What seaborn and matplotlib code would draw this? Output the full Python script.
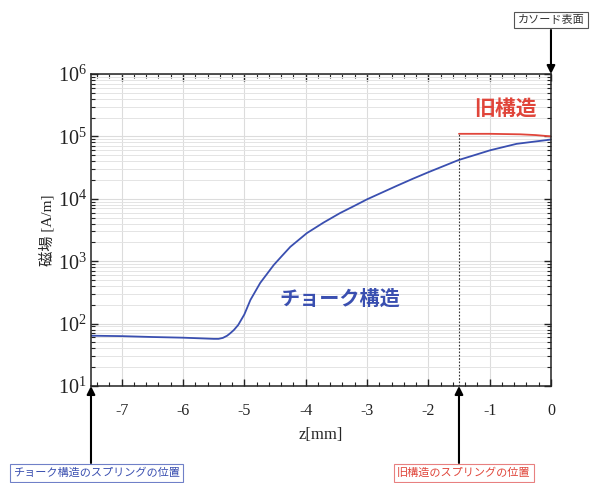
import numpy as np
import pandas as pd
import matplotlib
matplotlib.use("Agg")
import matplotlib.pyplot as plt
import seaborn as sns
from matplotlib.ticker import LogLocator, MultipleLocator, NullFormatter

# blue curve: choke structure
z_choke = [-7.5, -7.0, -6.5, -6.0, -5.7, -5.5, -5.42, -5.35, -5.28, -5.23, -5.17, -5.1,
           -5.0, -4.9, -4.74, -4.52, -4.4, -4.25, -3.98, -3.71, -3.44, -3.2, -3.0,
           -2.51, -2.25, -1.99, -1.51, -1.25, -0.99, -0.56, -0.25, 0.0]
h_choke = [64, 63, 61, 59.5, 58, 57, 57, 59, 64, 70, 79, 95,
           140, 240, 450, 870, 1175, 1700, 2820, 4150, 5900, 7760, 9800,
           16200, 21000, 26900, 41700, 50000, 60000, 76000, 83000, 89000]

# red curve: old structure
z_old = [-1.5, -1.0, -0.5, -0.25, 0.0]
h_old = [110000, 110000, 108000, 105000, 100000]

spring_old = -1.5
spring_choke = -7.5
x_ticks = [-7, -6, -5, -4, -3, -2, -1, 0]

BLUE = "#3a4fb0"
RED = "#e0453a"

sns.set_style("ticks")
plt.rcParams["font.family"] = ["Liberation Serif", "Noto Sans CJK JP"]
plt.rcParams["mathtext.fontset"] = "stix"

df_choke = pd.DataFrame({"z": z_choke, "H": h_choke})
df_old = pd.DataFrame({"z": z_old, "H": h_old})

fig = plt.figure(figsize=(5.92, 4.83), dpi=100)
ax = fig.add_axes([0.1537, 0.2008, 0.777, 0.646])

sns.lineplot(data=df_choke, x="z", y="H", color=BLUE, linewidth=1.3, ax=ax)
sns.lineplot(data=df_old, x="z", y="H", color=RED, linewidth=1.3, ax=ax)

ax.set_yscale("log")
ax.set_xlim(-7.5, 0)
ax.set_ylim(10, 1e6)
ax.set_xticks(x_ticks)
ax.set_xticklabels([str(t) for t in x_ticks])
ax.xaxis.set_minor_locator(MultipleLocator(0.2))
ax.yaxis.set_major_locator(LogLocator(base=10, numticks=10))
ax.yaxis.set_minor_locator(LogLocator(base=10, subs=np.arange(2, 10), numticks=20))
ax.yaxis.set_minor_formatter(NullFormatter())

ax.grid(which="major", axis="both", color="#dcdcdc", linewidth=0.8)
ax.grid(which="minor", axis="y", color="#e4e4e4", linewidth=0.7)
ax.set_axisbelow(True)

ax.tick_params(which="both", direction="in", top=True, right=True, colors="#222222")
ax.tick_params(which="major", length=5, width=1, labelsize=11.5, pad=12)
ax.tick_params(which="minor", length=3, width=0.8)
ax.tick_params(axis="y", which="major", labelsize=14.5, pad=3)
for s in ax.spines.values():
    s.set_color("#222222")
    s.set_linewidth(1.1)

ax.set_xlabel("z[mm]", fontsize=12, labelpad=6)
ax.set_ylabel("磁場 [A/m]", fontsize=11, labelpad=2)

# dotted marker for old spring position
ax.plot([spring_old, spring_old], [10, h_old[0]], color="#333333", linestyle=(0, (1.5, 1.5)),
        linewidth=0.8)

ax.text(-0.75, 10 ** 5.42, "旧構造", color=RED, fontsize=15, fontweight="bold",
        ha="center", va="center")
ax.text(-3.45, 10 ** 2.38, "チョーク構造", color=BLUE, fontsize=14.5, fontweight="bold",
        ha="center", va="center")

# vertical arrows and boxed notes
arrow = dict(arrowstyle="-|>", color="black", lw=1.5, mutation_scale=12, shrinkA=0, shrinkB=0)
ax.annotate("", xy=(0, 1e6), xytext=(0, 10 ** 6.705), arrowprops=arrow, annotation_clip=False)
ax.annotate("", xy=(spring_choke, 10), xytext=(spring_choke, 10 ** -0.234),
            arrowprops=arrow, annotation_clip=False)
ax.annotate("", xy=(spring_old, 10), xytext=(spring_old, 10 ** -0.234),
            arrowprops=arrow, annotation_clip=False)

ax.text(0, 10 ** 6.865, "カソード表面", ha="center", va="center", fontsize=8, color="#333333",
        bbox=dict(boxstyle="square,pad=0.3", fc="white", ec="#555555", lw=0.8), clip_on=False)
ax.text(spring_choke + 0.09, 10 ** -0.394, "チョーク構造のスプリングの位置", ha="center",
        va="center", fontsize=8, color=BLUE,
        bbox=dict(boxstyle="square,pad=0.3", fc="white", ec="#7080c8", lw=0.8), clip_on=False)
ax.text(spring_old + 0.08, 10 ** -0.394, "旧構造のスプリングの位置", ha="center",
        va="center", fontsize=8, color=RED,
        bbox=dict(boxstyle="square,pad=0.3", fc="white", ec="#e88080", lw=0.8), clip_on=False)

fig.savefig("out.png", dpi=100)
